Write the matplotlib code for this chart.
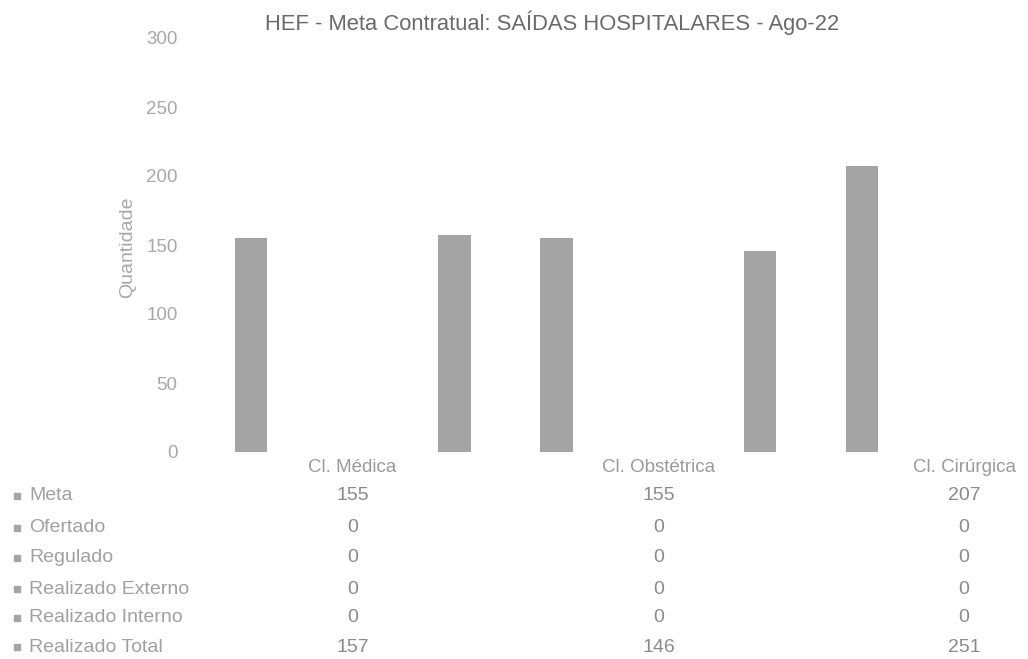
import matplotlib
matplotlib.use("Agg")
import matplotlib.pyplot as plt
import matplotlib.transforms as mtransforms
from matplotlib.lines import Line2D
import numpy as np

plt.rcParams['font.family'] = ['Liberation Sans', 'DejaVu Sans']

title = "HEF - Meta Contratual: SAÍDAS HOSPITALARES - Ago-22"
categories = ["Cl. Médica", "Cl. Obstétrica", "Cl. Cirúrgica"]
series_names = ["Meta", "Ofertado", "Regulado", "Realizado Externo",
                "Realizado Interno", "Realizado Total"]
meta = [155, 155, 207]
ofertado = [0, 0, 0]
regulado = [0, 0, 0]
realizado_externo = [0, 0, 0]
realizado_interno = [0, 0, 0]
realizado_total = [157, 146, 251]
series_values = [meta, ofertado, regulado, realizado_externo,
                 realizado_interno, realizado_total]
yticks = [0, 50, 100, 150, 200, 250, 300]

W, H = 1028, 659
fig = plt.figure(figsize=(W / 100, H / 100), dpi=100)
fig.patch.set_facecolor("white")

# axes extends beyond the right edge (reference is cropped)
left_px, right_px = 199.75, 1117.0
bottom_px, top_px = 452.0, 38.0
ax = fig.add_axes([left_px / W, 1 - bottom_px / H,
                   (right_px - left_px) / W, (bottom_px - top_px) / H])

bar_color = "#a4a4a4"
n = len(series_names)
slot = 0.8 / n
bw = 0.105
x = np.arange(len(categories))
for i, vals in enumerate(series_values):
    offs = (i - (n - 1) / 2) * slot
    ax.bar(x + offs, vals, width=bw, color=bar_color, linewidth=0)

ax.set_xlim(-0.5, len(categories) - 0.5)
ax.set_ylim(0, 300)
ax.set_yticks(yticks)
ax.set_yticklabels([str(t) for t in yticks])
ax.tick_params(axis='y', length=0, pad=16, labelsize=13.5, labelcolor="#a8a8a8")
ax.set_xticks([])
for s in ax.spines.values():
    s.set_visible(False)

fig.text(128 / W, 1 - 247 / H, "Quantidade", rotation=90, ha="center",
         va="center", fontsize=14, color="#a8a8a8")

fig.text(552 / W, 1 - 23 / H, title, ha="center", va="center",
         fontsize=15.8, color="#6a6a6a")

# data table below
trans = mtransforms.blended_transform_factory(ax.transData, fig.transFigure)
cat_y = 468
for xi, c in zip(x, categories):
    ax.text(xi, 1 - cat_y / H, c, transform=trans, ha="center", va="center",
            fontsize=13.5, color="#9a9a9a", clip_on=False)

row_ys = [496, 528, 558, 589, 618, 647]
for name, vals, ry in zip(series_names, series_values, row_ys):
    yf = 1 - ry / H
    fig.add_artist(Line2D([17 / W], [yf], marker="s", markersize=4.5,
                          color=bar_color, linestyle="none",
                          transform=fig.transFigure))
    fig.text(29 / W, yf, name, ha="left", va="center", fontsize=14,
             color="#a0a0a0")
    for xi, v in zip(x, vals):
        ax.text(xi, yf, str(v), transform=trans, ha="center", va="center",
                fontsize=14, color="#8a8a8a", clip_on=False)

fig.savefig("out.png", dpi=100, facecolor="white")
